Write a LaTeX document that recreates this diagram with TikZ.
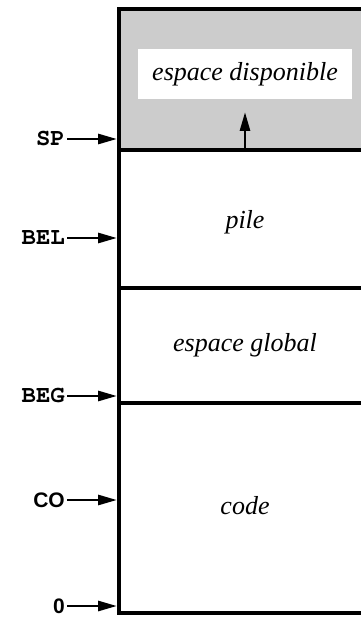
\documentclass[tikz,border=0pt]{standalone}
\usepackage{fontspec}
\setmainfont{Liberation Serif}
\newfontfamily\adrfont{Liberation Sans}
\newcommand{\regfont}{\usefont{T1}{pcr}{b}{n}}
\usetikzlibrary{arrows.meta}

\begin{document}
\begin{tikzpicture}[x=1pt,y=-1pt,
    zone/.style={font=\fontsize{26}{30}\selectfont\itshape},
    reg/.style={anchor=east,inner sep=2pt,font=\regfont\fontsize{24}{28}\selectfont},
    adr/.style={anchor=east,inner sep=2pt,font=\fontsize{21}{25}\selectfont\adrfont\bfseries},
    ptr/.style={-{Triangle[length=19pt,width=10pt]},line width=2.8pt},
    wall/.style={line width=3.4pt}]
  \path[use as bounding box] (0,0) rectangle (361,617);
  % free space on top
  \fill[black!20] (119,9) rectangle (361,150);
  \node[zone,fill=white,minimum width=214pt,minimum height=50pt] (dispo) at (245,74) {espace disponible};
  % memory
  \draw[wall] (361,9) -- (119,9) -- (119,613) -- (361,613);
  \draw[wall] (119,150) -- (361,150);
  \draw[wall] (119,288) -- (361,288);
  \draw[wall] (119,403) -- (361,403);
  \node[zone] (pile) at (245,222) {pile};
  \node[zone] (glob) at (245,345) {espace global};
  \node[zone] (code) at (245,506) {code};
  % pointers
  \coordinate (spE)  at (117,139);
  \coordinate (belE) at (117,238);
  \coordinate (begE) at (117,396);
  \coordinate (coE)  at (117,500);
  \coordinate (zeroE) at (117,606);
  \node[reg] (sp)  at (67,139) {SP};
  \node[reg] (bel) at (67,238) {BEL};
  \node[reg] (beg) at (67,396) {BEG};
  \node[adr] (co)  at (67,500) {CO};
  \node[adr] (zero) at (67,606) {0};
  \coordinate (grow) at (245,150);
  \coordinate (up)   at (245,112);
  \path[ptr]
    (sp) edge (spE)
    (bel) edge (belE)
    (beg) edge (begE)
    (co) edge (coE)
    (zero) edge (zeroE)
    (grow) edge (up);
\end{tikzpicture}
\end{document}
